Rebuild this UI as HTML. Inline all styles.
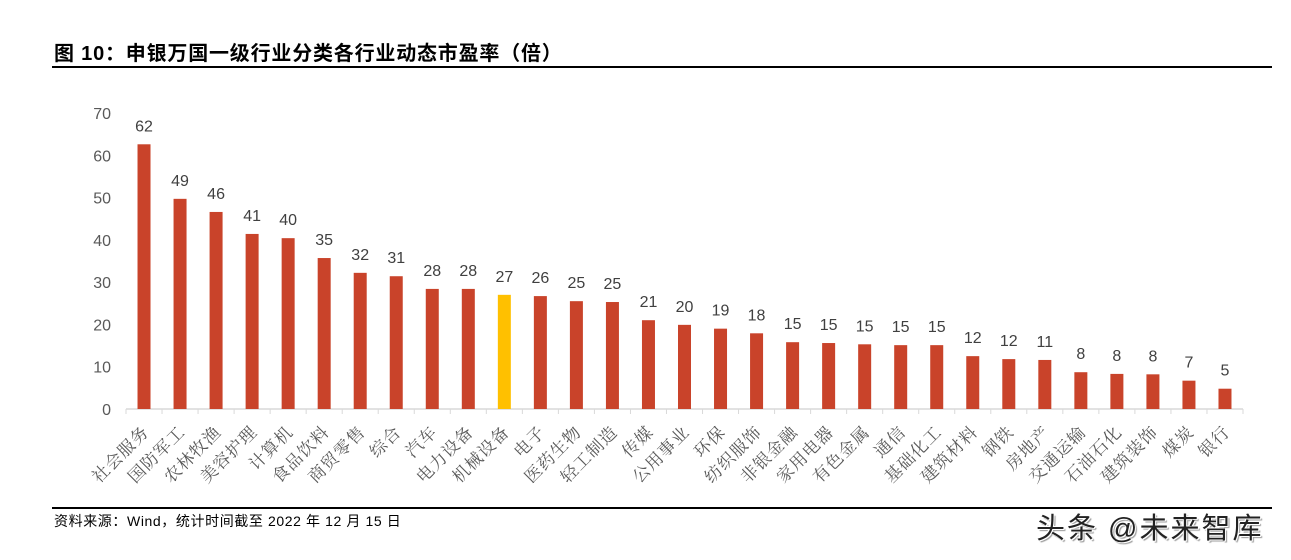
<!DOCTYPE html>
<html><head><meta charset="utf-8"><style>
body{margin:0;background:#fff;width:1291px;height:560px;overflow:hidden;position:relative;font-family:"Liberation Sans","Noto Sans CJK SC",sans-serif}
#title{position:absolute;left:54px;top:37px;font-size:20px;font-weight:bold;color:#000;letter-spacing:0.8px}
#topline{position:absolute;left:52px;top:66px;width:1220px;height:2px;background:#000}
#botline{position:absolute;left:52px;top:507px;width:1220px;height:2px;background:#000}
#src{position:absolute;left:54px;top:511px;font-size:14px;color:#000;letter-spacing:0.6px}
#wm{position:absolute;left:1036px;top:505px;font-size:29px;color:#222;letter-spacing:2px;text-shadow:1px 1px 0 #fff,-1px -1px 0 #fff,2px 2px 1px #999}
svg{position:absolute;left:0;top:0}
</style></head><body>
<div id="title">图 10：申银万国一级行业分类各行业动态市盈率（倍）</div>
<div id="topline"></div>
<svg id="chart" width="1291" height="560"></svg>
<div id="botline"></div>
<div id="src">资料来源：Wind，统计时间截至 2022 年 12 月 15 日</div>
<div id="wm">头条 @未来智库</div>
<script>
const categories=["社会服务","国防军工","农林牧渔","美容护理","计算机","食品饮料","商贸零售","综合","汽车","电力设备","机械设备","电子","医药生物","轻工制造","传媒","公用事业","环保","纺织服饰","非银金融","家用电器","有色金属","通信","基础化工","建筑材料","钢铁","房地产","交通运输","石油石化","建筑装饰","煤炭","银行"];
const values=[62.6,49.7,46.6,41.4,40.4,35.7,32.2,31.4,28.4,28.4,27,26.7,25.5,25.3,21,19.9,19,17.9,15.8,15.6,15.3,15.1,15.1,12.5,11.8,11.6,8.7,8.3,8.2,6.7,4.8];
const valueLabels=["62","49","46","41","40","35","32","31","28","28","27","26","25","25","21","20","19","18","15","15","15","15","15","12","12","11","8","8","8","7","5"];
const yTicks=[0,10,20,30,40,50,60,70];
const highlight="机械设备";
const svg=document.getElementById('chart');
const NS="http://www.w3.org/2000/svg";
const x0=126,x1=1243,y0=409,yTop=113,yMax=70;
const bw=(x1-x0)/categories.length;
const Y=v=>y0-(v/yMax)*(y0-yTop);
const X=i=>x0+bw*(i+0.5);
function mk(t,a){const e=document.createElementNS(NS,t);for(const k in a)e.setAttribute(k,a[k]);svg.appendChild(e);return e;}
yTicks.forEach(t=>{const e=mk('text',{x:111,y:Y(t)+6,'text-anchor':'end','font-size':16,fill:'#595959','font-family':'Liberation Sans,sans-serif'});e.textContent=t;

});
const ax=mk('line',{x1:x0,y1:y0,x2:x1,y2:y0,stroke:'#d9d9d9','stroke-width':1.5});


for(let i=0;i<=categories.length;i++){const t=mk('line',{x1:x0+bw*i,y1:y0,x2:x0+bw*i,y2:y0+5,stroke:'#d9d9d9','stroke-width':1});

}
categories.forEach((c,i)=>{
const r=mk('rect',{x:X(i)-6.5,y:Y(values[i]),width:13,height:y0-Y(values[i]),fill:c===highlight?'#ffc000':'#c9432a'});


const l=mk('text',{x:X(i),y:Y(values[i])-13,'text-anchor':'middle','font-size':16,fill:'#404040','font-family':'Liberation Sans,sans-serif'});l.textContent=valueLabels[i];


const cx=X(i)+6,cy=y0+24;
const tl=mk('text',{x:cx,y:cy,'text-anchor':'end','font-size':17,fill:'#595959','letter-spacing':'1','font-family':'Noto Serif CJK SC,serif',transform:`rotate(-45 ${cx} ${cy})`});tl.textContent=c;


});
</script>
</body></html>
